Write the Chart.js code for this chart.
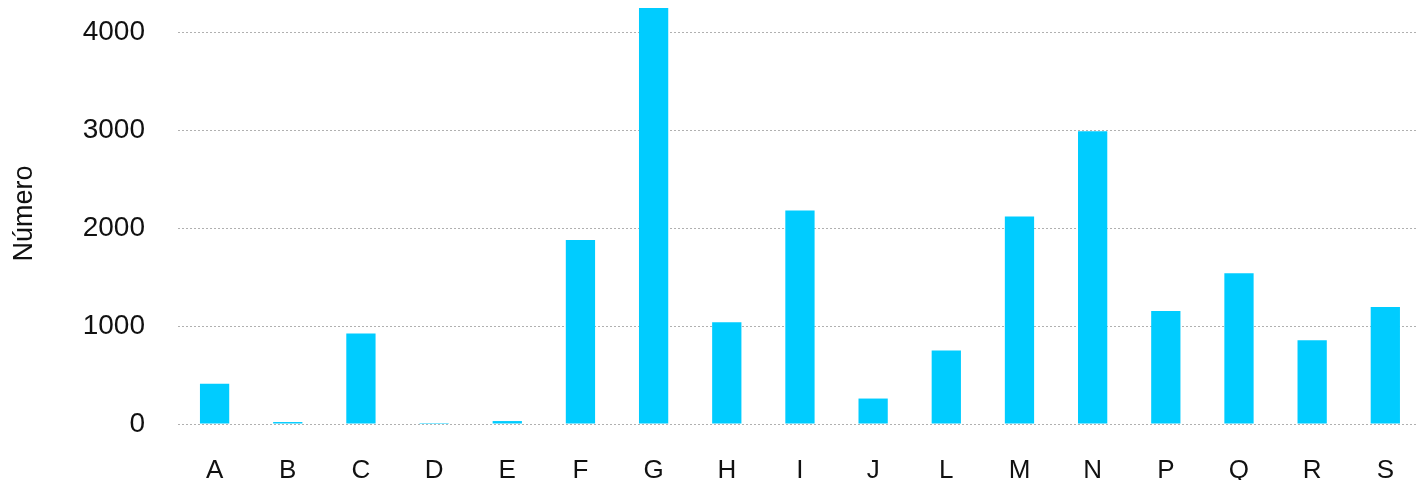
<!DOCTYPE html>
<html>
<head>
<meta charset="utf-8">
<script src="https://cdn.jsdelivr.net/npm/chart.js@4"></script>
<style>
  html, body { margin: 0; padding: 0; background: #fff; overflow: hidden; }
  #wrap { width: 1425px; height: 480px; }
</style>
</head>
<body>
<div id="wrap"><canvas id="grafico" width="1425" height="480"></canvas></div>
<script>
const categorias = ["A", "B", "C", "D", "E", "F", "G", "H", "I", "J", "L", "M", "N", "P", "Q", "R", "S"];
const valores = [410, 20, 925, 10, 30, 1880, 4250, 1040, 2180, 260, 750, 2120, 2990, 1155, 1540, 855, 1195];
const ticksY = [0, 1000, 2000, 3000, 4000];

const fuente = "'Liberation Sans', Arial, sans-serif";

new Chart(document.getElementById("grafico").getContext("2d"), {
  type: "bar",
  data: {
    labels: categorias,
    datasets: [
      {
        data: valores,
        backgroundColor: "#00ccff",
        barPercentage: 0.4,
        categoryPercentage: 1,
      },
    ],
  },
  options: {
    responsive: false,
    animation: false,
    layout: { padding: { top: 3, left: 0, right: 0, bottom: 0 } },
    plugins: { legend: { display: false }, tooltip: { enabled: false } },
    scales: {
      x: {
        grid: { display: false, drawTicks: false },
        border: { display: false },
        ticks: { color: "#111", font: { family: fuente, size: 26 }, padding: 31, maxRotation: 0 },
        afterFit: (scale) => { scale.height = 56; },
      },
      y: {
        min: 0,
        max: 4300,
        grid: { color: "#b0b0b0", lineWidth: 1, drawTicks: false },
        border: { display: false, dash: [2, 2] },
        ticks: {
          color: "#111",
          font: { family: fuente, size: 28 },
          padding: 33,
          callback: (v) => String(v),
        },
        // solo las marcas de 0 a 4000, sin la del máximo
        afterBuildTicks: (scale) => { scale.ticks = ticksY.map((v) => ({ value: v })); },
        afterFit: (scale) => {
          scale.width = 178;
          scale.paddingTop = 0;
          scale.paddingBottom = 0;
        },
        title: { display: true, text: "Número", color: "#111", font: { family: fuente, size: 27 }, padding: { top: 8, bottom: 0 } },
      },
    },
  },
});
</script>
</body>
</html>
